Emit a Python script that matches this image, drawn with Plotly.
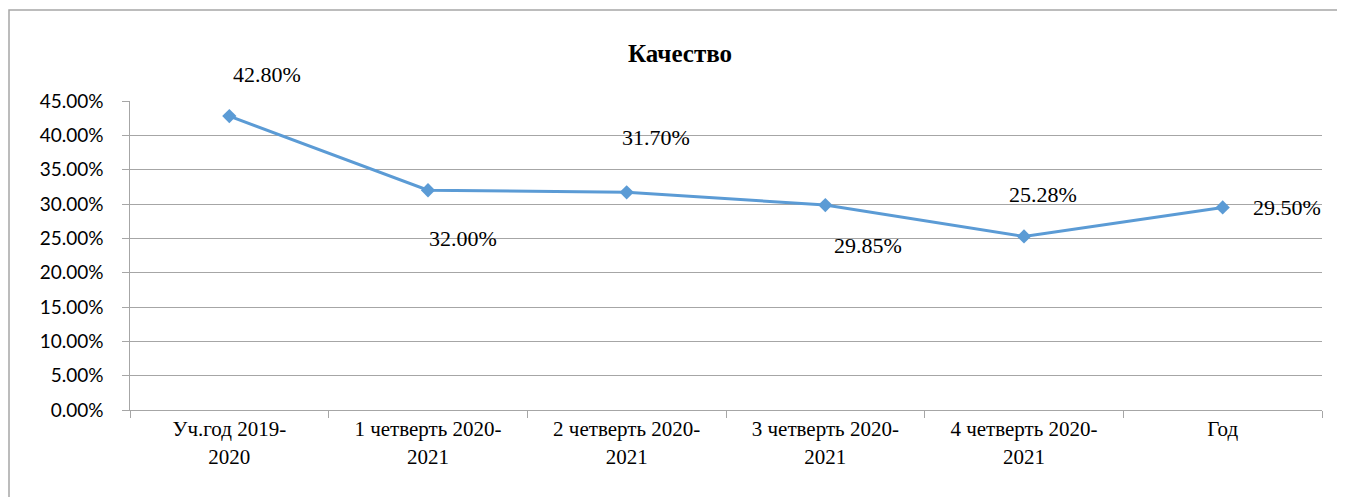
import plotly.graph_objects as go

categories = ["Уч.год 2019-<br>2020", "1 четверть 2020-<br>2021", "2 четверть 2020-<br>2021",
              "3 четверть 2020-<br>2021", "4 четверть 2020-<br>2021", "Год"]
values = [0.428, 0.32, 0.317, 0.2985, 0.2528, 0.295]
labels = ["42.80%", "32.00%", "31.70%", "29.85%", "25.28%", "29.50%"]
label_shift_x = [38, 35, 29, 43, 19, 64]
label_shift_y = [42, -48, 55, -40, 42, 0]

y_ticks = [0, 0.05, 0.10, 0.15, 0.20, 0.25, 0.30, 0.35, 0.40, 0.45]
y_ticktext = ["%.2f%%" % (v * 100) + "\u00a0\u00a0\u00a0" for v in y_ticks]

SERIF = "Liberation Serif"
SANS = "Lato"

OFF = 8  # page body margin
W, H = 1345, 497
L, T = 130 - OFF, 101 - OFF
R = W - (1322 - OFF)
B = H - (410 - OFF)
pw, ph = W - L - R, H - T - B

fig = go.Figure()
fig.add_trace(go.Scatter(
    x=categories, y=values, mode="lines+markers",
    line=dict(color="#5B9BD5", width=3),
    marker=dict(symbol="diamond", size=11, color="#5B9BD5"),
    showlegend=False,
))

for c, v, t, sx, sy in zip(categories, values, labels, label_shift_x, label_shift_y):
    fig.add_annotation(x=c, y=v, xref="x", yref="y", text=t, showarrow=False,
                       xshift=sx, yshift=sy,
                       font=dict(family=SERIF, size=22, color="black"))

fig.add_shape(type="rect", xref="paper", yref="paper",
              x0=(9 - OFF - L) / pw, x1=(W + 5 - L) / pw,
              y0=-(B + 5) / ph, y1=(H - B - (10 - OFF)) / ph,
              line=dict(color="#a6a6a6", width=1.5), layer="below")

fig.update_layout(
    width=W, height=H,
    margin=dict(l=L, r=R, t=T, b=B),
    paper_bgcolor="white", plot_bgcolor="white",
    title=dict(text="<b>Качество</b>", x=(680 - OFF) / W, xanchor="center",
               y=1 - (53 - OFF) / H, yanchor="middle",
               font=dict(family=SERIF, size=25, color="black")),
    xaxis=dict(
        type="category", tickson="boundaries", ticks="outside", ticklen=7,
        tickcolor="#a6a6a6", showline=True, linecolor="#a6a6a6", linewidth=1,
        showgrid=False, range=[-0.5, 5.5],
        tickfont=dict(family=SERIF, size=21, color="black"),
    ),
    yaxis=dict(
        range=[0, 0.45], tickvals=y_ticks, ticktext=y_ticktext,
        ticks="outside", ticklen=7, tickcolor="#a6a6a6",
        showline=True, linecolor="#a6a6a6", linewidth=1,
        showgrid=True, gridcolor="#a6a6a6", gridwidth=1, zeroline=False,
        tickfont=dict(family=SANS, size=19, color="black"),
    ),
)

fig.write_html("out.html")
